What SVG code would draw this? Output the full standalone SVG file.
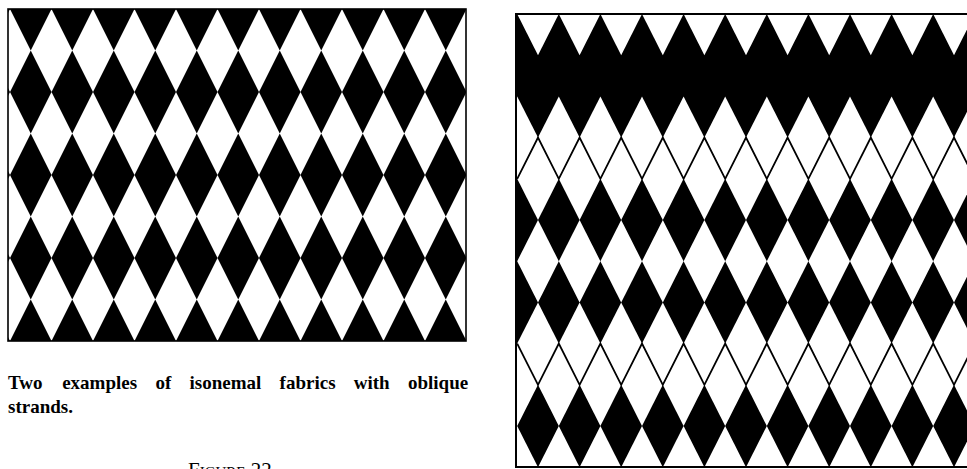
<svg xmlns="http://www.w3.org/2000/svg" width="967" height="469" viewBox="0 0 967 469">
<style>
.w{fill:#fff}
.blk{fill:#000}
.frame{fill:none;stroke:#000;stroke-width:1.6}
.zig{fill:none;stroke:#000;stroke-width:1.8}
.cap{font-family:"Liberation Serif","Times New Roman",serif;font-weight:bold;font-size:19px;fill:#000}
.fig{font-family:"Liberation Serif","Times New Roman",serif;font-size:21px;font-variant:small-caps;fill:#000}
</style>
<defs>
<path id="dL" class="w" d="M0,-41.5L20.75,0L0,41.5L-20.75,0Z"/>
<path id="dR" class="w" d="M0,-41.2L20.8,0L0,41.2L-20.8,0Z"/>
<g id="rowL">
<use href="#dL" x="10"/><use href="#dL" x="51.5"/><use href="#dL" x="93"/><use href="#dL" x="134.5"/><use href="#dL" x="176"/><use href="#dL" x="217.5"/><use href="#dL" x="259"/><use href="#dL" x="300.5"/><use href="#dL" x="342"/><use href="#dL" x="383.5"/><use href="#dL" x="425"/><use href="#dL" x="466.5"/>
</g>
<g id="rowE">
<use href="#dR" x="538"/><use href="#dR" x="579.6"/><use href="#dR" x="621.2"/><use href="#dR" x="662.8"/><use href="#dR" x="704.4"/><use href="#dR" x="746"/><use href="#dR" x="787.6"/><use href="#dR" x="829.2"/><use href="#dR" x="870.8"/><use href="#dR" x="912.4"/><use href="#dR" x="954"/>
</g>
<g id="rowO">
<use href="#dR" x="517.2"/><use href="#dR" x="558.8"/><use href="#dR" x="600.4"/><use href="#dR" x="642"/><use href="#dR" x="683.6"/><use href="#dR" x="725.2"/><use href="#dR" x="766.8"/><use href="#dR" x="808.4"/><use href="#dR" x="850"/><use href="#dR" x="891.6"/><use href="#dR" x="933.2"/><use href="#dR" x="974.8"/>
</g>
<clipPath id="cL"><rect x="8" y="9" width="458" height="332"/></clipPath>
<clipPath id="cR"><rect x="516" y="14" width="460" height="453"/></clipPath>
</defs>
<rect width="967" height="469" fill="#fff"/>

<g id="left-fabric">
<g clip-path="url(#cL)">
<rect class="blk" x="8" y="9" width="458" height="332"/>
<use href="#rowL" y="50.5"/>
<use href="#rowL" y="133.5"/>
<use href="#rowL" y="216.5"/>
<use href="#rowL" y="299.5"/>
</g>
<rect class="frame" x="8" y="9" width="458" height="332"/>
</g>

<g id="right-fabric">
<g clip-path="url(#cR)">
<rect class="blk" x="516" y="14" width="460" height="453"/>
<use href="#rowE" y="14"/>
<use href="#rowO" y="137.6"/>
<use href="#rowE" y="178.8"/>
<use href="#rowE" y="261.2"/>
<use href="#rowE" y="343.6"/>
<use href="#rowO" y="384.8"/>
<use href="#rowO" y="467.2"/>
<polyline class="zig" points="517.2,178.8 538,137.6 558.8,178.8 579.6,137.6 600.4,178.8 621.2,137.6 642,178.8 662.8,137.6 683.6,178.8 704.4,137.6 725.2,178.8 746,137.6 766.8,178.8 787.6,137.6 808.4,178.8 829.2,137.6 850,178.8 870.8,137.6 891.6,178.8 912.4,137.6 933.2,178.8 954,137.6 974.8,178.8"/>
<polyline class="zig" points="517.2,343.6 538,384.8 558.8,343.6 579.6,384.8 600.4,343.6 621.2,384.8 642,343.6 662.8,384.8 683.6,343.6 704.4,384.8 725.2,343.6 746,384.8 766.8,343.6 787.6,384.8 808.4,343.6 829.2,384.8 850,343.6 870.8,384.8 891.6,343.6 912.4,384.8 933.2,343.6 954,384.8 974.8,343.6"/>
</g>
<rect class="frame" x="516" y="14" width="470" height="453" style="stroke-width:2"/>
</g>

<g id="caption">
<text class="cap" y="389"><tspan x="8">Two</tspan><tspan x="62.2">examples</tspan><tspan x="155.4">of</tspan><tspan x="189.5">isonemal</tspan><tspan x="279.6">fabrics</tspan><tspan x="353.8">with</tspan><tspan x="408">oblique</tspan></text>
<text class="cap" x="8" y="413">strands.</text>
<text class="fig" x="188" y="477">Figure 22</text>
</g>
</svg>
